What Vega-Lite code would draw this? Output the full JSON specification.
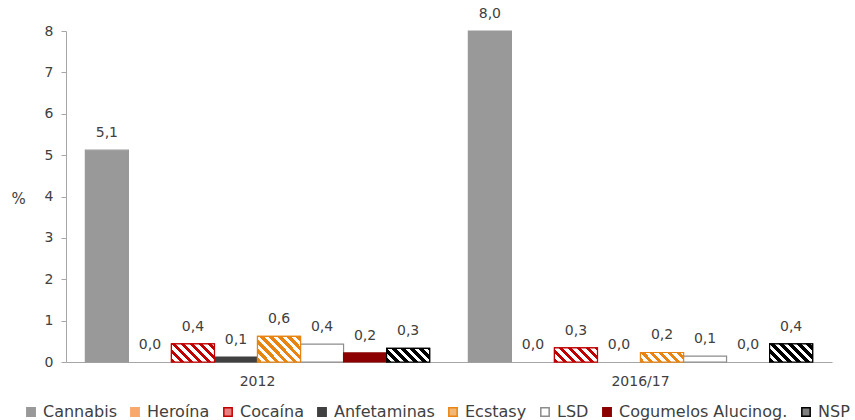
{
  "$schema": "https://vega.github.io/schema/vega-lite/v6.json",
  "width": 766,
  "height": 331,
  "autosize": {"type": "none"},
  "padding": {"left": 66, "top": 31, "right": 23, "bottom": 58},
  "background": "white",
  "data": {
    "values": [
      {"period": "2012", "substance": "Cannabis", "value": 5.12},
      {"period": "2012", "substance": "Heroína", "value": 0.0},
      {"period": "2012", "substance": "Cocaína", "value": 0.44},
      {"period": "2012", "substance": "Anfetaminas", "value": 0.12},
      {"period": "2012", "substance": "Ecstasy", "value": 0.62},
      {"period": "2012", "substance": "LSD", "value": 0.43},
      {"period": "2012", "substance": "Cogumelos Alucinog.", "value": 0.22},
      {"period": "2012", "substance": "NSP", "value": 0.33},
      {"period": "2016/17", "substance": "Cannabis", "value": 8.0},
      {"period": "2016/17", "substance": "Heroína", "value": 0.0},
      {"period": "2016/17", "substance": "Cocaína", "value": 0.34},
      {"period": "2016/17", "substance": "Anfetaminas", "value": 0.0},
      {"period": "2016/17", "substance": "Ecstasy", "value": 0.23},
      {"period": "2016/17", "substance": "LSD", "value": 0.14},
      {"period": "2016/17", "substance": "Cogumelos Alucinog.", "value": 0.0},
      {"period": "2016/17", "substance": "NSP", "value": 0.44}
    ]
  },
  "encoding": {
    "x": {
      "field": "period", "type": "nominal", "sort": ["2012", "2016/17"],
      "scale": {"paddingInner": 0, "paddingOuter": 0},
      "axis": {"title": null, "labelAngle": 0, "ticks": false, "labelPadding": 12, "labelFontSize": 14, "labelColor": "#404040", "domainColor": "#a6a6a6"}
    },
    "xOffset": {
      "field": "substance", "type": "nominal",
      "scale": {"domain": ["Cannabis", "Heroína", "Cocaína", "Anfetaminas", "Ecstasy", "LSD", "Cogumelos Alucinog.", "NSP"], "paddingInner": 0, "paddingOuter": 0.45}
    },
    "y": {
      "field": "value", "type": "quantitative",
      "scale": {"domain": [0, 8], "nice": false},
      "axis": {"values": [0,1,2,3,4,5,6,7,8], "grid": false, "tickSize": 5, "tickColor": "#a6a6a6", "domainColor": "#a6a6a6", "labelFontSize": 14, "labelColor": "#404040", "labelPadding": 8, "title": "%", "titleAngle": 0, "titleX": -48, "titleY": 167, "titleAlign": "center", "titleBaseline": "middle", "titleFontSize": 15, "titleFontWeight": "normal", "titleColor": "#404040"}
    }
  },
  "layer": [
    {
      "mark": {"type": "bar", "strokeWidth": 1.2},
      "encoding": {
        "color": {
          "field": "substance", "type": "nominal",
          "scale": {
            "domain": ["Cannabis", "Heroína", "Cocaína", "Anfetaminas", "Ecstasy", "LSD", "Cogumelos Alucinog.", "NSP"],
            "range": ["#999999", "#F9A86B", "#E88080", "#404040", "#F2B878", "#FFFFFF", "#8B0000", "#808080"]
          },
          "legend": {
            "title": null,
            "orient": "none",
            "direction": "horizontal",
            "columns": 8,
            "legendX": -43,
            "legendY": 373,
            "symbolType": "square",
            "symbolSize": 70,
            "symbolStrokeWidth": 1.5,
            "labelFontSize": 16,
            "labelColor": "#404040",
            "labelOffset": 4,
            "labelLimit": 300,
            "columnPadding": 10
          }
        },
        "stroke": {
          "field": "substance", "type": "nominal",
          "scale": {
            "domain": ["Cannabis", "Heroína", "Cocaína", "Anfetaminas", "Ecstasy", "LSD", "Cogumelos Alucinog.", "NSP"],
            "range": ["#999999", "#F9A86B", "#C00000", "#404040", "#E88412", "#8C8C8C", "#8B0000", "#000000"]
          },
          "legend": {
            "title": null,
            "orient": "none",
            "direction": "horizontal",
            "columns": 8,
            "legendX": -43,
            "legendY": 373,
            "symbolType": "square",
            "symbolSize": 70,
            "symbolStrokeWidth": 1.5,
            "labelFontSize": 16,
            "labelColor": "#404040",
            "labelOffset": 4,
            "labelLimit": 300,
            "columnPadding": 10
          }
        },
        "strokeOpacity": {"condition": {"test": "datum.value === 0", "value": 0}, "value": 1},
        "opacity": {"value": 1}
      }
    },
    {
      "transform": [{"filter": "datum.substance === 'Cocaína' && datum.period === '2012'"}],
      "mark": {"type": "bar", "stroke": "#C00000", "strokeWidth": 1.2, "fill": {"gradient": "linear", "x1": 0, "y1": 1, "x2": 1.207, "y2": 0.489, "stops": [
        {"offset": 0, "color": "#C00000"}, {"offset": 0.0735, "color": "#C00000"}, {"offset": 0.0735, "color": "#FFFFFF"}, {"offset": 0.147, "color": "#FFFFFF"},
        {"offset": 0.147, "color": "#C00000"}, {"offset": 0.2206, "color": "#C00000"}, {"offset": 0.2206, "color": "#FFFFFF"}, {"offset": 0.294, "color": "#FFFFFF"},
        {"offset": 0.294, "color": "#C00000"}, {"offset": 0.3676, "color": "#C00000"}, {"offset": 0.3676, "color": "#FFFFFF"}, {"offset": 0.441, "color": "#FFFFFF"},
        {"offset": 0.441, "color": "#C00000"}, {"offset": 0.5147, "color": "#C00000"}, {"offset": 0.5147, "color": "#FFFFFF"}, {"offset": 0.588, "color": "#FFFFFF"},
        {"offset": 0.588, "color": "#C00000"}, {"offset": 0.6618, "color": "#C00000"}, {"offset": 0.6618, "color": "#FFFFFF"}, {"offset": 0.735, "color": "#FFFFFF"},
        {"offset": 0.735, "color": "#C00000"}, {"offset": 0.8088, "color": "#C00000"}, {"offset": 0.8088, "color": "#FFFFFF"}, {"offset": 0.882, "color": "#FFFFFF"},
        {"offset": 0.882, "color": "#C00000"}, {"offset": 0.9559, "color": "#C00000"}, {"offset": 0.9559, "color": "#FFFFFF"}, {"offset": 1, "color": "#FFFFFF"}
      ]}}
    },
    {
      "transform": [{"filter": "datum.substance === 'Cocaína' && datum.period === '2016/17'"}],
      "mark": {"type": "bar", "stroke": "#C00000", "strokeWidth": 1.2, "fill": {"gradient": "linear", "x1": 0, "y1": 1, "x2": 1.199, "y2": 0.608, "stops": [
        {"offset": 0, "color": "#C00000"}, {"offset": 0.0788, "color": "#C00000"}, {"offset": 0.0788, "color": "#FFFFFF"}, {"offset": 0.1576, "color": "#FFFFFF"},
        {"offset": 0.1576, "color": "#C00000"}, {"offset": 0.2364, "color": "#C00000"}, {"offset": 0.2364, "color": "#FFFFFF"}, {"offset": 0.3152, "color": "#FFFFFF"},
        {"offset": 0.3152, "color": "#C00000"}, {"offset": 0.394, "color": "#C00000"}, {"offset": 0.394, "color": "#FFFFFF"}, {"offset": 0.4728, "color": "#FFFFFF"},
        {"offset": 0.4728, "color": "#C00000"}, {"offset": 0.5516, "color": "#C00000"}, {"offset": 0.5516, "color": "#FFFFFF"}, {"offset": 0.6304, "color": "#FFFFFF"},
        {"offset": 0.6304, "color": "#C00000"}, {"offset": 0.7092, "color": "#C00000"}, {"offset": 0.7092, "color": "#FFFFFF"}, {"offset": 0.788, "color": "#FFFFFF"},
        {"offset": 0.788, "color": "#C00000"}, {"offset": 0.8668, "color": "#C00000"}, {"offset": 0.8668, "color": "#FFFFFF"}, {"offset": 0.9456, "color": "#FFFFFF"},
        {"offset": 0.9456, "color": "#C00000"}, {"offset": 1, "color": "#C00000"}
      ]}}
    },
    {
      "transform": [{"filter": "datum.substance === 'Ecstasy' && datum.period === '2012'"}],
      "mark": {"type": "bar", "stroke": "#E88412", "strokeWidth": 1.2, "fill": {"gradient": "linear", "x1": 0, "y1": 1, "x2": 1.178, "y2": 0.298, "stops": [
        {"offset": 0, "color": "#E88412"}, {"offset": 0.0655, "color": "#E88412"}, {"offset": 0.0655, "color": "#FFFFFF"}, {"offset": 0.131, "color": "#FFFFFF"},
        {"offset": 0.131, "color": "#E88412"}, {"offset": 0.1965, "color": "#E88412"}, {"offset": 0.1965, "color": "#FFFFFF"}, {"offset": 0.262, "color": "#FFFFFF"},
        {"offset": 0.262, "color": "#E88412"}, {"offset": 0.3275, "color": "#E88412"}, {"offset": 0.3275, "color": "#FFFFFF"}, {"offset": 0.393, "color": "#FFFFFF"},
        {"offset": 0.393, "color": "#E88412"}, {"offset": 0.4585, "color": "#E88412"}, {"offset": 0.4585, "color": "#FFFFFF"}, {"offset": 0.524, "color": "#FFFFFF"},
        {"offset": 0.524, "color": "#E88412"}, {"offset": 0.5895, "color": "#E88412"}, {"offset": 0.5895, "color": "#FFFFFF"}, {"offset": 0.655, "color": "#FFFFFF"},
        {"offset": 0.655, "color": "#E88412"}, {"offset": 0.7205, "color": "#E88412"}, {"offset": 0.7205, "color": "#FFFFFF"}, {"offset": 0.786, "color": "#FFFFFF"},
        {"offset": 0.786, "color": "#E88412"}, {"offset": 0.8515, "color": "#E88412"}, {"offset": 0.8515, "color": "#FFFFFF"}, {"offset": 0.917, "color": "#FFFFFF"},
        {"offset": 0.917, "color": "#E88412"}, {"offset": 0.9825, "color": "#E88412"}, {"offset": 0.9825, "color": "#FFFFFF"}, {"offset": 1, "color": "#FFFFFF"}
      ]}}
    },
    {
      "transform": [{"filter": "datum.substance === 'Ecstasy' && datum.period === '2016/17'"}],
      "mark": {"type": "bar", "stroke": "#E88412", "strokeWidth": 1.2, "fill": {"gradient": "linear", "x1": 0, "y1": 1, "x2": 1.164, "y2": 0.743, "stops": [
        {"offset": 0, "color": "#E88412"}, {"offset": 0.0856, "color": "#E88412"}, {"offset": 0.0856, "color": "#FFFFFF"}, {"offset": 0.1712, "color": "#FFFFFF"},
        {"offset": 0.1712, "color": "#E88412"}, {"offset": 0.2568, "color": "#E88412"}, {"offset": 0.2568, "color": "#FFFFFF"}, {"offset": 0.3424, "color": "#FFFFFF"},
        {"offset": 0.3424, "color": "#E88412"}, {"offset": 0.428, "color": "#E88412"}, {"offset": 0.428, "color": "#FFFFFF"}, {"offset": 0.5136, "color": "#FFFFFF"},
        {"offset": 0.5136, "color": "#E88412"}, {"offset": 0.5992, "color": "#E88412"}, {"offset": 0.5992, "color": "#FFFFFF"}, {"offset": 0.6848, "color": "#FFFFFF"},
        {"offset": 0.6848, "color": "#E88412"}, {"offset": 0.7704, "color": "#E88412"}, {"offset": 0.7704, "color": "#FFFFFF"}, {"offset": 0.856, "color": "#FFFFFF"},
        {"offset": 0.856, "color": "#E88412"}, {"offset": 0.9416, "color": "#E88412"}, {"offset": 0.9416, "color": "#FFFFFF"}, {"offset": 1, "color": "#FFFFFF"}
      ]}}
    },
    {
      "transform": [{"filter": "datum.substance === 'NSP' && datum.period === '2012'"}],
      "mark": {"type": "bar", "stroke": "#000000", "strokeWidth": 1.2, "fill": {"gradient": "linear", "x1": 0, "y1": 1, "x2": 1.197, "y2": 0.621, "stops": [
        {"offset": 0, "color": "#000000"}, {"offset": 0.0794, "color": "#000000"}, {"offset": 0.0794, "color": "#FFFFFF"}, {"offset": 0.1588, "color": "#FFFFFF"},
        {"offset": 0.1588, "color": "#000000"}, {"offset": 0.2382, "color": "#000000"}, {"offset": 0.2382, "color": "#FFFFFF"}, {"offset": 0.3176, "color": "#FFFFFF"},
        {"offset": 0.3176, "color": "#000000"}, {"offset": 0.397, "color": "#000000"}, {"offset": 0.397, "color": "#FFFFFF"}, {"offset": 0.4764, "color": "#FFFFFF"},
        {"offset": 0.4764, "color": "#000000"}, {"offset": 0.5558, "color": "#000000"}, {"offset": 0.5558, "color": "#FFFFFF"}, {"offset": 0.6352, "color": "#FFFFFF"},
        {"offset": 0.6352, "color": "#000000"}, {"offset": 0.7146, "color": "#000000"}, {"offset": 0.7146, "color": "#FFFFFF"}, {"offset": 0.794, "color": "#FFFFFF"},
        {"offset": 0.794, "color": "#000000"}, {"offset": 0.8734, "color": "#000000"}, {"offset": 0.8734, "color": "#FFFFFF"}, {"offset": 0.9528, "color": "#FFFFFF"},
        {"offset": 0.9528, "color": "#000000"}, {"offset": 1, "color": "#000000"}
      ]}}
    },
    {
      "transform": [{"filter": "datum.substance === 'NSP' && datum.period === '2016/17'"}],
      "mark": {"type": "bar", "stroke": "#000000", "strokeWidth": 1.2, "fill": {"gradient": "linear", "x1": 0, "y1": 1, "x2": 1.207, "y2": 0.489, "stops": [
        {"offset": 0, "color": "#000000"}, {"offset": 0.0735, "color": "#000000"}, {"offset": 0.0735, "color": "#FFFFFF"}, {"offset": 0.147, "color": "#FFFFFF"},
        {"offset": 0.147, "color": "#000000"}, {"offset": 0.2206, "color": "#000000"}, {"offset": 0.2206, "color": "#FFFFFF"}, {"offset": 0.294, "color": "#FFFFFF"},
        {"offset": 0.294, "color": "#000000"}, {"offset": 0.3676, "color": "#000000"}, {"offset": 0.3676, "color": "#FFFFFF"}, {"offset": 0.441, "color": "#FFFFFF"},
        {"offset": 0.441, "color": "#000000"}, {"offset": 0.5147, "color": "#000000"}, {"offset": 0.5147, "color": "#FFFFFF"}, {"offset": 0.588, "color": "#FFFFFF"},
        {"offset": 0.588, "color": "#000000"}, {"offset": 0.6618, "color": "#000000"}, {"offset": 0.6618, "color": "#FFFFFF"}, {"offset": 0.735, "color": "#FFFFFF"},
        {"offset": 0.735, "color": "#000000"}, {"offset": 0.8088, "color": "#000000"}, {"offset": 0.8088, "color": "#FFFFFF"}, {"offset": 0.882, "color": "#FFFFFF"},
        {"offset": 0.882, "color": "#000000"}, {"offset": 0.9559, "color": "#000000"}, {"offset": 0.9559, "color": "#FFFFFF"}, {"offset": 1, "color": "#FFFFFF"}
      ]}}
    },
    {
      "mark": {"type": "text", "dy": -17, "fontSize": 14, "color": "#404040", "baseline": "middle"},
      "encoding": {
        "text": {"field": "value", "type": "quantitative", "format": ".1f"}
      }
    }
  ],
  "config": {
    "font": "DejaVu Sans",
    "view": {"stroke": null},
    "locale": {"number": {"decimal": ",", "thousands": ".", "grouping": [3], "currency": ["", " €"]}},
    "axis": {"labelFont": "DejaVu Sans", "titleFont": "DejaVu Sans"},
    "legend": {"labelFont": "DejaVu Sans"}
  }
}
